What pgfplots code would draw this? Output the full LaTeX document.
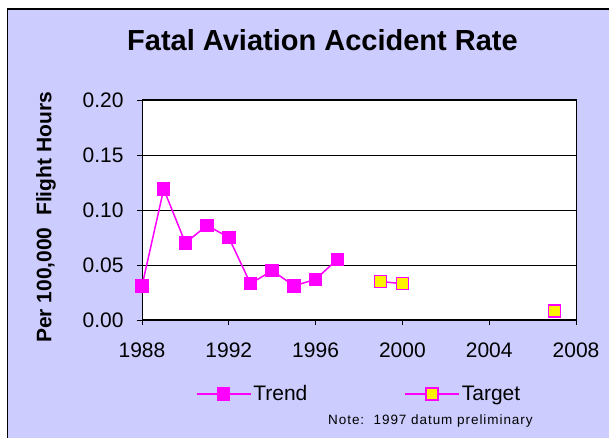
\documentclass[border=0pt]{standalone}
\usepackage{pgfplots}
\pgfplotsset{compat=1.18}
\usepackage{fontspec}
\setmainfont{Liberation Sans}
\definecolor{lav}{HTML}{CCCCFF}
\definecolor{mag}{HTML}{FF00FF}
\begin{document}
\begin{tikzpicture}[x=1pt,y=1pt]
\clip (0,0) rectangle (609,438);
\fill[white] (0,0) rectangle (609,438);
\draw[fill=lav, draw=black, line width=1.2pt] (7.5,-20) rectangle (640,429);
\node[font=\fontsize{29}{34}\selectfont\bfseries] at (322.5,398) {Fatal Aviation Accident Rate};
\node[rotate=90, font=\fontsize{21}{25}\selectfont\bfseries] at (46,220.5) {Per 100,000\ \ Flight Hours};
\node[anchor=base west, inner sep=0pt, font=\fontsize{13.5}{16}\selectfont\addfontfeature{LetterSpace=7}] at (328,13) {Note:\ \ 1997 datum preliminary};
\begin{axis}[
  at={(142pt,118pt)}, anchor=south west,
  width=434pt, height=220pt, scale only axis,
  xmin=1988, xmax=2008, ymin=0, ymax=0.2,
  xtick={1988,1992,...,2008}, minor x tick num=3,
  ytick={0,0.05,...,0.2},
  tick align=outside, tick pos=left,
  major tick length=5pt, minor tick length=5pt,
  ymajorgrids, grid style={black, line width=0.8pt},
  axis line style={black, line width=1pt},
  tick style={black, line width=0.8pt},
  axis background/.style={fill=white},
  /pgf/number format/assume math mode=true,
  xticklabel style={/pgf/number format/1000 sep={}, font=\fontsize{21}{25}\selectfont, yshift=-14pt},
  yticklabel style={/pgf/number format/fixed, /pgf/number format/fixed zerofill, /pgf/number format/precision=2, font=\fontsize{21}{25}\selectfont, xshift=-10pt},
  unbounded coords=jump,
  legend style={at={(0.5,-0.336)}, anchor=center, draw=none, fill=none, legend columns=2,
    font=\fontsize{21}{25}\selectfont, /tikz/every even column/.append style={column sep=95pt}},
  legend image code/.code={\draw[mark repeat=2, mark phase=2, #1] plot coordinates {(0pt,0pt) (27pt,0pt) (54pt,0pt)};},
]
\addplot[mag, line width=1.5pt, mark=square*, mark size=6pt, mark options={solid, fill=mag, draw=mag}]
coordinates {(1988,0.031) (1989,0.119) (1990,0.070) (1991,0.086) (1992,0.075) (1993,0.033) (1994,0.045) (1995,0.031) (1996,0.037) (1997,0.055)};
\addlegendentry{Trend}
\addplot[mag, line width=1.5pt, mark=square*, mark size=6pt, mark options={solid, fill=yellow, draw=mag, line width=1.5pt}]
coordinates {(1999,0.035) (2000,0.033) (2001,nan) (2007,0.008)};
\addlegendentry{Target}
\end{axis}
\end{tikzpicture}
\end{document}
